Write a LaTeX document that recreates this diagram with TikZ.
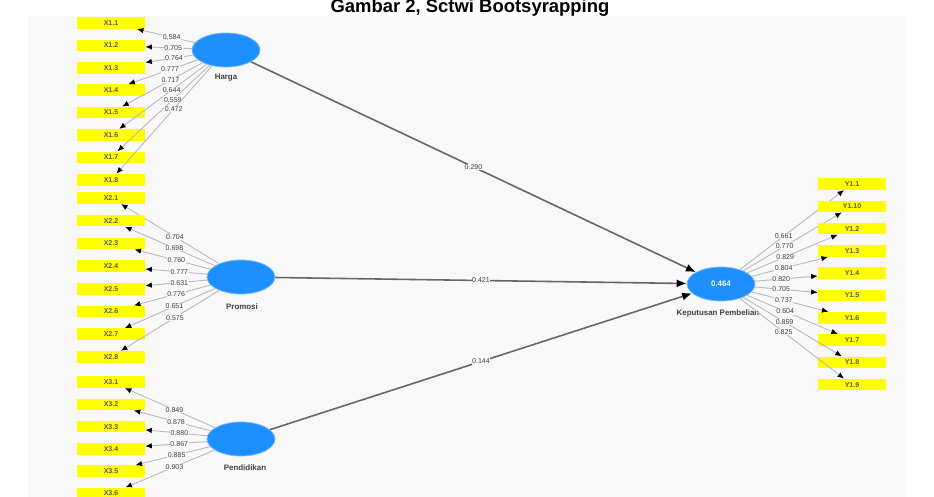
\documentclass[tikz,border=0pt]{standalone}
\usepackage{fontspec}
\setmainfont{Liberation Sans}
\usetikzlibrary{arrows.meta, shapes.geometric}
\definecolor{latentblue}{HTML}{1E8FFF}
\definecolor{indyellow}{HTML}{FFFF00}
\definecolor{canvasgray}{HTML}{F8F8F8}

\begin{document}
\begin{tikzpicture}[x=0.02cm, y=-0.02cm,
  indicator/.style={rectangle, fill=indyellow, minimum width=1.36cm, minimum height=0.23cm, inner sep=0pt, font=\fontsize{4}{5}\selectfont\bfseries, text=black!65},
  latent/.style={ellipse, fill=latentblue, draw=latentblue!60, minimum width=1.36cm, minimum height=0.68cm, inner sep=0pt, font=\fontsize{4.5}{5}\selectfont\bfseries, text=white},
  latentname/.style={font=\fontsize{4.5}{5}\selectfont\bfseries, text=black!75},
  loading/.style={-{Latex[length=1.3mm,width=1.1mm,black]}, draw=gray!55, line width=0.5pt},
  structural/.style={-{Latex[length=2mm,width=1.6mm,black]}, draw=gray!80!black, line width=0.9pt},
  weight/.style={font=\fontsize{4}{5}\selectfont, fill=canvasgray, inner sep=0.4pt, text=black!75}
]
  % Canvas
  \useasboundingbox (0,0) rectangle (934,497);
  \fill[white] (0,0) rectangle (934,497);
  \fill[canvasgray] (28,16) rectangle (906,497);
  \node[font=\bfseries\fontsize{10.5}{12}\selectfont] (title) at (470,8) {Gambar 2, Sctwi Bootsyrapping};

  % Latent variables
  \node[latent] (harga) at (226,50) {};
  \node[latentname] (hargalbl) at (226,78) {Harga};
  \node[latent] (promosi) at (241,277) {};
  \node[latentname] (promosilbl) at (242,307) {Promosi};
  \node[latent] (pendidikan) at (241,439) {};
  \node[latentname] (pendidikanlbl) at (245,468) {Pendidikan};
  \node[latent] (keputusan) at (721,284) {0.464};
  \node[latentname] (keputusanlbl) at (718,313) {Keputusan Pembelian};

  % Harga indicators
  \foreach \i/\v in {1/0.584, 2/0.705, 3/0.764, 4/0.777, 5/0.717, 6/0.644, 7/0.559, 8/0.472} {
    \node[indicator] (x1\i) at (111,{23+22.4*(\i-1)}) {X1.\i};
    \draw[loading] (harga) -- node[weight, pos=0.4] {\v} (x1\i);
  }

  % Promosi indicators
  \foreach \i/\v in {1/0.704, 2/0.698, 3/0.760, 4/0.777, 5/0.631, 6/0.776, 7/0.651, 8/0.575} {
    \node[indicator] (x2\i) at (111,{198+22.7*(\i-1)}) {X2.\i};
    \draw[loading] (promosi) -- node[weight, pos=0.45] {\v} (x2\i);
  }

  % Pendidikan indicators
  \foreach \i/\v in {1/0.849, 2/0.878, 3/0.880, 4/0.867, 5/0.885, 6/0.903} {
    \node[indicator] (x3\i) at (111,{382+22.3*(\i-1)}) {X3.\i};
    \draw[loading] (pendidikan) -- node[weight, pos=0.45] {\v} (x3\i);
  }

  % Keputusan Pembelian indicators
  \foreach \k/\n/\v in {0/1/0.661, 1/10/0.770, 2/2/0.829, 3/3/0.804, 4/4/0.820, 5/5/0.705, 6/6/0.737, 7/7/0.604, 8/8/0.859, 9/9/0.825} {
    \node[indicator] (y1\n) at (852,{184+22.3*\k}) {Y1.\n};
    \draw[loading] (keputusan) -- node[weight, pos=0.42] {\v} (y1\n);
  }

  % Structural paths
  \draw[structural] (harga) -- node[weight] {0.290} (keputusan);
  \draw[structural] (promosi) -- node[weight] {0.421} (keputusan);
  \draw[structural] (pendidikan) -- node[weight] {0.144} (keputusan);
\end{tikzpicture}
\end{document}
